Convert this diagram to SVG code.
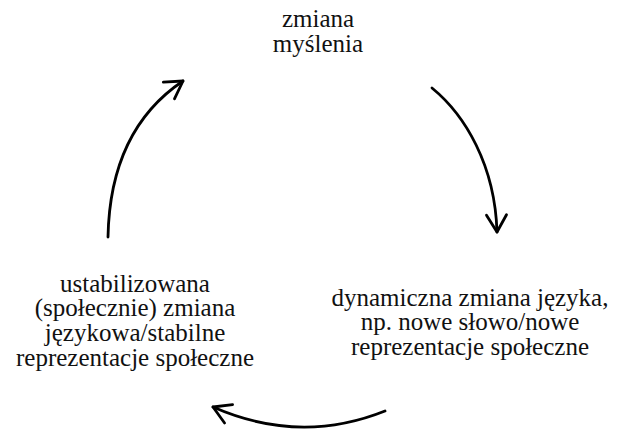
<svg xmlns="http://www.w3.org/2000/svg" width="618" height="433" viewBox="0 0 618 433">
<style>
  text { font-family: "Liberation Serif", "DejaVu Serif", serif; font-size: 25px; fill: #111; text-anchor: middle; }
  .c { fill: none; stroke: #000; stroke-width: 2.8; stroke-linecap: round; }
</style>
<defs>
  <marker id="ah" viewBox="-20 -12 24 24" markerWidth="24" markerHeight="24" refX="0" refY="0" markerUnits="userSpaceOnUse" orient="auto">
    <path d="M-17,-10 L0,0 L-17,10" fill="none" stroke="#000" stroke-width="2.8" stroke-linecap="round" stroke-linejoin="round"/>
  </marker>
</defs>
<rect width="618" height="433" fill="#fff"/>
<g id="node-top">
  <text x="318" y="27">zmiana</text>
  <text x="318" y="52">myślenia</text>
</g>
<g id="node-right">
  <text x="470" y="306">dynamiczna zmiana języka,</text>
  <text x="470" y="330">np. nowe słowo/nowe</text>
  <text x="470" y="355">reprezentacje społeczne</text>
</g>
<g id="node-left">
  <text x="135" y="292">ustabilizowana</text>
  <text x="135" y="316">(społecznie) zmiana</text>
  <text x="135" y="341">językowa/stabilne</text>
  <text x="135" y="366">reprezentacje społeczne</text>
</g>
<g id="connectors">
  <path class="c" d="M432,88 C465,115 495,165 497,232" marker-end="url(#ah)"/>
  <path class="c" d="M385,411 Q300,445 213,407" marker-end="url(#ah)"/>
  <path class="c" d="M108,237 Q110,130 183,81" marker-end="url(#ah)"/>
</g>
</svg>
